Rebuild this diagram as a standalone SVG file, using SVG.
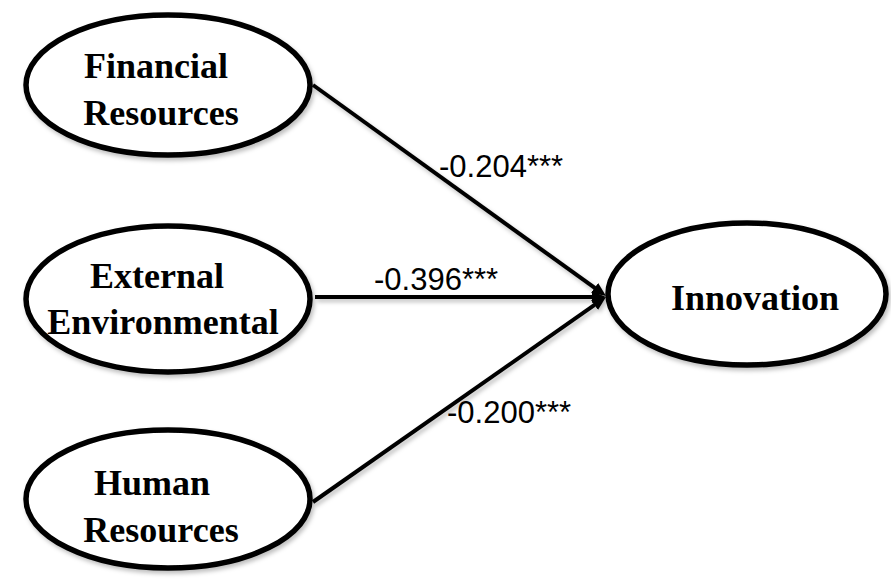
<svg xmlns="http://www.w3.org/2000/svg" width="891" height="582" viewBox="0 0 891 582">
<style>
.node ellipse{fill:#fff;stroke:#000;stroke-width:5.5;filter:url(#sh)}
.node text{font-family:"Liberation Serif","Times New Roman",serif;font-weight:bold;font-size:36px;fill:#000;text-anchor:middle}
.edge{stroke:#000;stroke-width:4;fill:none;marker-end:url(#ah);filter:url(#sh)}
.lbl{font-family:"Liberation Sans",Arial,sans-serif;font-size:31px;fill:#000}
</style>
<defs>
<filter id="sh" filterUnits="userSpaceOnUse" x="0" y="0" width="891" height="582">
<feDropShadow dx="2" dy="3" stdDeviation="2" flood-color="#000" flood-opacity="0.25"/>
</filter>
<marker id="ah" markerUnits="userSpaceOnUse" markerWidth="16" markerHeight="14" refX="4" refY="6" orient="auto">
<path d="M0,0 L14,6 L0,12 z" fill="#000"/>
</marker>
</defs>
<rect width="891" height="582" fill="#fff"/>
<g id="connectors">
<line class="edge" x1="313" y1="85" x2="597.9" y2="290.2"/>
<line class="edge" x1="315" y1="297" x2="596" y2="297"/>
<line class="edge" x1="313" y1="502" x2="597.8" y2="302.7"/>
<text class="lbl" x="439" y="177">-0.204***</text>
<text class="lbl" x="374" y="290">-0.396***</text>
<text class="lbl" x="447" y="423">-0.200***</text>
</g>
<g id="financial" class="node">
<ellipse cx="168" cy="85" rx="142" ry="70"/>
<text x="156" y="78">Financial</text>
<text x="161" y="125">Resources</text>
</g>
<g id="external" class="node">
<ellipse cx="168" cy="299" rx="142" ry="73"/>
<text x="157" y="288">External</text>
<text x="163" y="334">Environmental</text>
</g>
<g id="human" class="node">
<ellipse cx="168" cy="499" rx="142" ry="69"/>
<text x="152" y="495">Human</text>
<text x="161" y="542">Resources</text>
</g>
<g id="innovation" class="node">
<ellipse cx="747" cy="294" rx="139" ry="71"/>
<text x="755" y="310">Innovation</text>
</g>
</svg>
